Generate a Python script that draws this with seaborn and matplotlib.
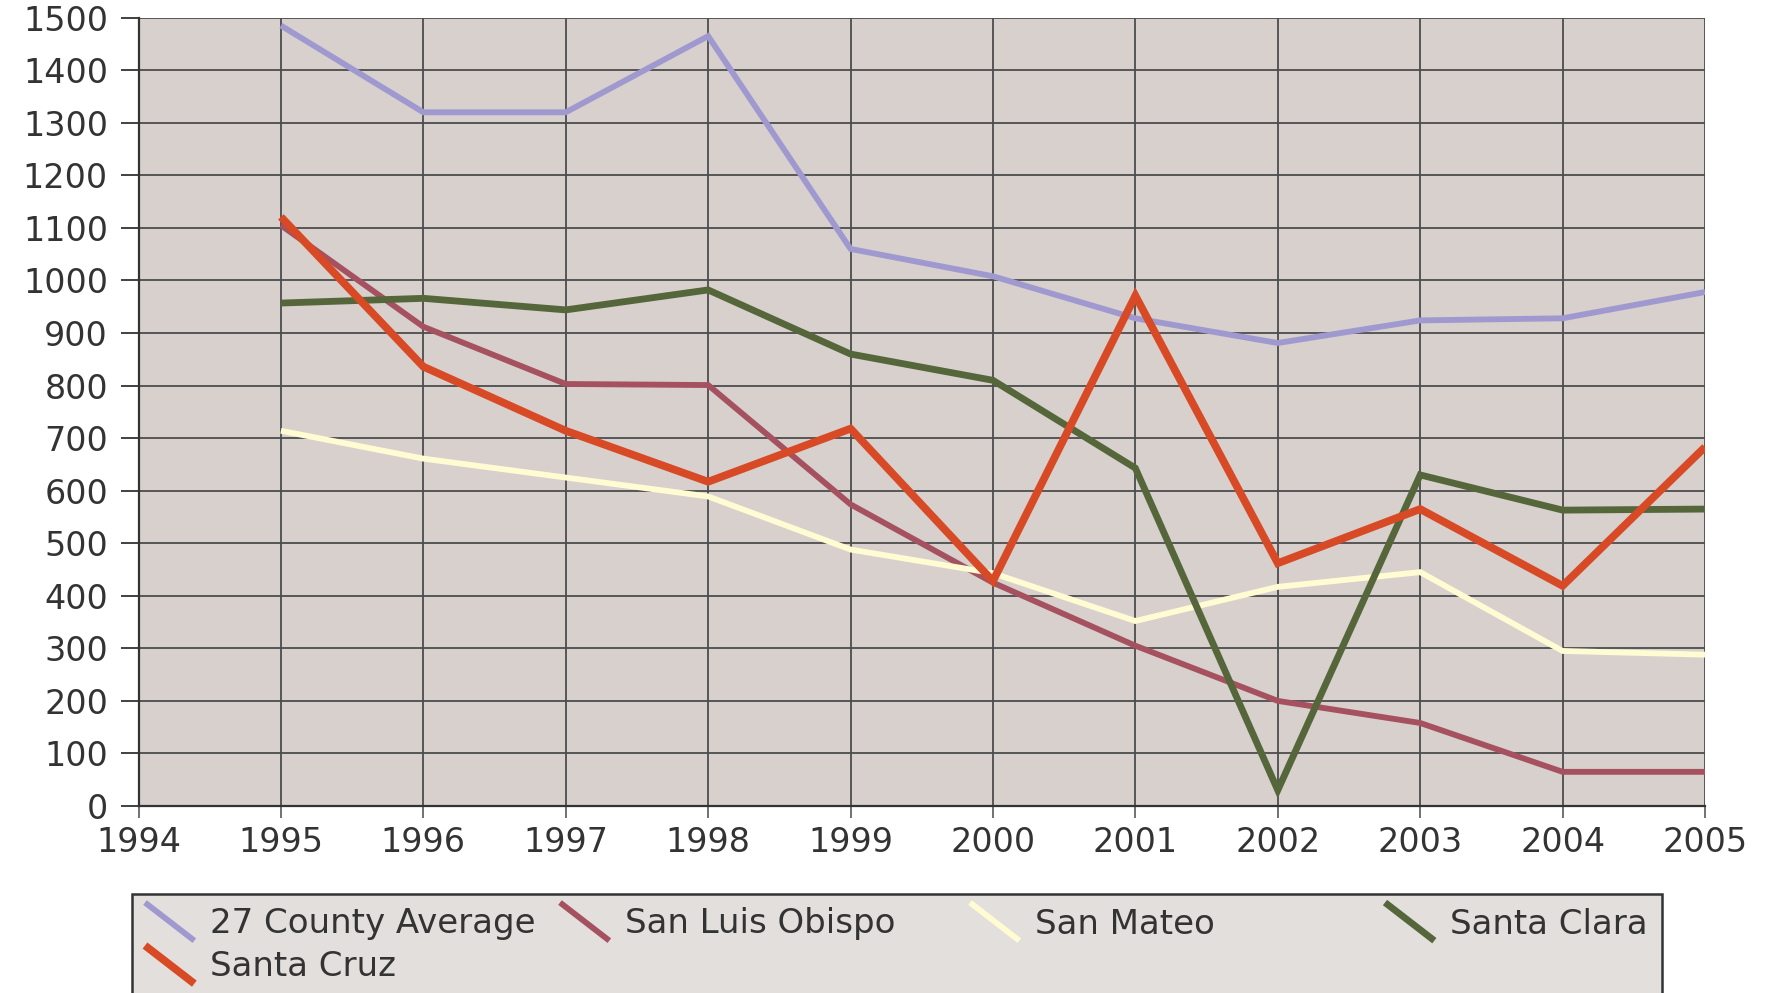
import matplotlib
matplotlib.use("Agg")
import matplotlib.pyplot as plt
import seaborn as sns
import pandas as pd
from matplotlib.legend_handler import HandlerLine2D
from matplotlib.lines import Line2D
from matplotlib.patches import Rectangle

# ---- data ----
years = [1995, 1996, 1997, 1998, 1999, 2000, 2001, 2002, 2003, 2004, 2005]
county_avg = [1485, 1320, 1320, 1465, 1060, 1008, 928, 881, 924, 928, 978]
san_luis_obispo = [1105, 912, 803, 801, 574, 425, 305, 200, 158, 65, 65]
san_mateo = [714, 661, 625, 589, 488, 443, 352, 417, 445, 295, 288]
santa_clara = [957, 966, 944, 982, 860, 810, 643, 30, 630, 563, 565]
santa_cruz = [1121, 836, 714, 617, 718, 428, 971, 462, 565, 419, 683]
series_names = ["27 County Average", "San Luis Obispo", "San Mateo",
                "Santa Clara", "Santa Cruz"]
x_ticks = list(range(1994, 2006))
y_ticks = list(range(0, 1501, 100))

# ---- styles ----
colors = ["#9f99cf", "#a5515f", "#fffbd3", "#55663a", "#d84a26"]
widths = [4.2, 4.2, 4.2, 4.9, 5.6]

sns.set_style("white")
plt.rcParams["font.family"] = ["DejaVu Sans"]
text_color = "#333333"

fig = plt.figure(figsize=(17.68, 9.93), dpi=100)
ax = fig.add_axes([138.5 / 1768, 1 - 806 / 993, (1705 - 138.5) / 1768, (806 - 17.7) / 993])
ax.set_facecolor("#d7d0cd")

values = [county_avg, san_luis_obispo, san_mateo, santa_clara, santa_cruz]
handles = []
for name, vals, c, lw in zip(series_names, values, colors, widths):
    df = pd.DataFrame({"year": years, "value": vals})
    sns.lineplot(data=df, x="year", y="value", ax=ax, color=c, linewidth=lw,
                 solid_joinstyle="miter", solid_capstyle="butt", zorder=3)
    handles.append(Line2D([], [], color=c, linewidth=lw, solid_capstyle="butt"))

ax.set_xlim(1994, 2005)
ax.set_ylim(0, 1500)
ax.set_xticks(x_ticks)
ax.set_yticks(y_ticks)
ax.set_xlabel("")
ax.set_ylabel("")
ax.grid(True, color="#4d4d4d", linewidth=1.3, zorder=1)
ax.set_axisbelow(True)
for side in ["top", "right"]:
    ax.spines[side].set_visible(False)
for side in ["left", "bottom"]:
    ax.spines[side].set_color("#333333")
    ax.spines[side].set_linewidth(1.6)
ax.tick_params(axis="y", length=13, width=1.3, color="#333333", pad=9,
               labelsize=24, labelcolor=text_color, left=True)
ax.tick_params(axis="x", length=8.6, width=1.3, color="#666666", pad=6,
               labelsize=24, labelcolor=text_color, bottom=True)


class DiagHandler(HandlerLine2D):
    def create_artists(self, legend, orig_handle, xdescent, ydescent,
                       width, height, fontsize, trans):
        x0 = -xdescent
        x1 = -xdescent + width
        y_top = -ydescent + height * 1.3
        y_bot = -ydescent - height * 0.3
        line = Line2D([x0, x1], [y_top, y_bot], color=orig_handle.get_color(),
                      linewidth=orig_handle.get_linewidth(), solid_capstyle="butt")
        line.set_transform(trans)
        return [line]


# legend box
box = Rectangle((132 / 1768, -0.05), (1662 - 132) / 1768, (0.05 + 1 - 894 / 993),
                transform=fig.transFigure, facecolor="#e3dfdc", edgecolor="#333333",
                linewidth=1.8, clip_on=False, zorder=0)
fig.patches.append(box)

entry_pos = [(145, 924), (560, 924), (970, 924), (1385, 924), (145, 967)]
for h, name, (px, py) in zip(handles, series_names, entry_pos):
    leg = fig.legend(handles=[h], labels=[name], loc="center left",
                     bbox_to_anchor=(px / 1768, 1 - py / 993),
                     frameon=False, fontsize=24.5, handlelength=1.45,
                     handletextpad=0.45, borderpad=0, borderaxespad=0,
                     handler_map={Line2D: DiagHandler()})
    for t in leg.get_texts():
        t.set_color(text_color)

fig.savefig("out.png", dpi=100, facecolor="white")
